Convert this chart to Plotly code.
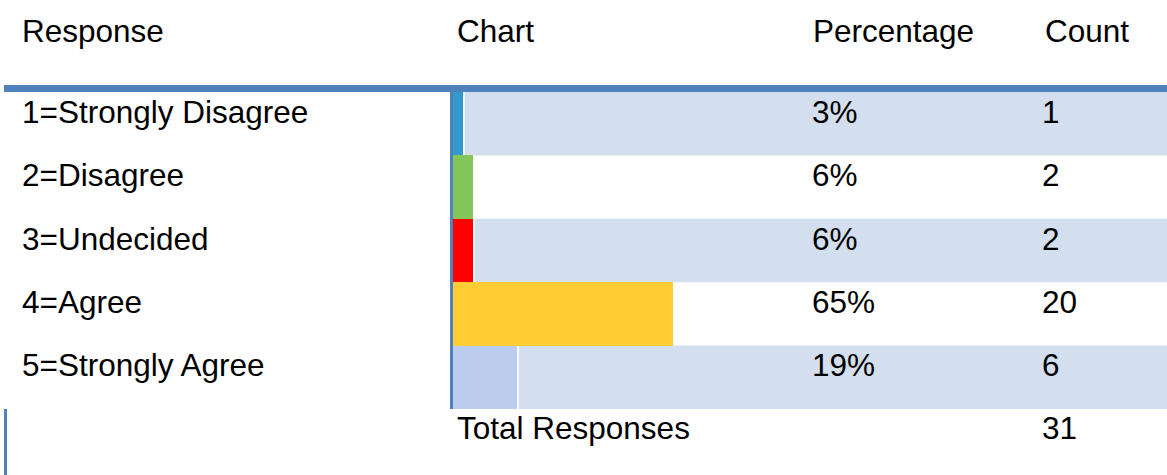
import plotly.graph_objects as go

# ---------------- data ----------------
responses = ["1=Strongly Disagree", "2=Disagree", "3=Undecided", "4=Agree", "5=Strongly Agree"]
percentages = [3, 6, 6, 65, 19]
counts = [1, 2, 2, 20, 6]
total_label = "Total Responses"
total_count = 31
headers = ["Response", "Chart", "Percentage", "Count"]
bar_colors = ["#3399CC", "#84C65A", "#FF0000", "#FFCC33", "#BBCCEE"]

# ---------------- layout constants (pixels) ----------------
W, H = 1167, 475
BAR_X0 = 453          # pixel where bars start
PX_PER_PCT = 220 / 65  # horizontal scale
ROW_TOP = 92
ROW_H = 63.4
BG = "#D3DFEE"
LINE = "#4F81BD"
FONT = "Liberation Sans, Arial, sans-serif"
FS = 31.5

x_range = [-BAR_X0 / PX_PER_PCT, (W - BAR_X0) / PX_PER_PCT]
y_top = -0.5 - ROW_TOP / ROW_H
y_bot = y_top + H / ROW_H

def px(xp):
    return xp / W

def py(yp):
    return 1 - yp / H

rows = list(range(len(responses)))

fig = go.Figure()
fig.add_trace(go.Bar(
    x=percentages, y=rows, orientation="h", width=1,
    marker=dict(color=bar_colors, line=dict(width=0)),
    hoverinfo="skip", showlegend=False,
))

shapes = []
# alternating row background, right of each bar
for i, p in enumerate(percentages):
    if i % 2 == 0:
        shapes.append(dict(type="rect", xref="x", yref="y", layer="below",
                           x0=p + 0.45, x1=x_range[1] + 5, y0=i - 0.5, y1=i + 0.5,
                           fillcolor=BG, line=dict(width=0)))
# header rule
shapes.append(dict(type="rect", xref="paper", yref="paper", layer="above",
                   x0=px(4), x1=1, y0=py(92), y1=py(85),
                   fillcolor=LINE, line=dict(width=0)))
# vertical rule left of bars
shapes.append(dict(type="rect", xref="x", yref="y", layer="above",
                   x0=-3 / PX_PER_PCT, x1=0, y0=-0.5, y1=len(responses) - 0.5,
                   fillcolor=LINE, line=dict(width=0)))
# small left rule in total row
shapes.append(dict(type="rect", xref="paper", yref="paper", layer="above",
                   x0=px(4), x1=px(7), y0=0, y1=py(409),
                   fillcolor=LINE, line=dict(width=0)))

annotations = []
col_x = [20, 455, 811, 1043]
for h, cx in zip(headers, col_x):
    annotations.append(dict(text=h, x=px(cx), y=py(31), xref="paper", yref="paper",
                            xanchor="left", yanchor="middle", showarrow=False,
                            font=dict(family=FONT, size=FS, color="black")))
for i in rows:
    for txt, cx in [(responses[i], 20), (f"{percentages[i]}%", 810), (str(counts[i]), 1040)]:
        annotations.append(dict(text=txt, x=px(cx), y=i, xref="paper", yref="y",
                                xanchor="left", yanchor="middle", yshift=12, showarrow=False,
                                font=dict(family=FONT, size=FS, color="black")))
for txt, cx in [(total_label, 455), (str(total_count), 1040)]:
    annotations.append(dict(text=txt, x=px(cx), y=py(428), xref="paper", yref="paper",
                            xanchor="left", yanchor="middle", showarrow=False,
                            font=dict(family=FONT, size=FS, color="black")))

fig.update_layout(
    width=W, height=H, margin=dict(l=0, r=0, t=0, b=0),
    paper_bgcolor="white", plot_bgcolor="white",
    xaxis=dict(range=x_range, visible=False, fixedrange=True),
    yaxis=dict(range=[y_bot, y_top], visible=False, fixedrange=True),
    shapes=shapes, annotations=annotations, bargap=0,
)
fig.write_html("out.html", config={"displayModeBar": False},
               post_script="document.body.style.margin='0';document.body.style.overflow='hidden';")
